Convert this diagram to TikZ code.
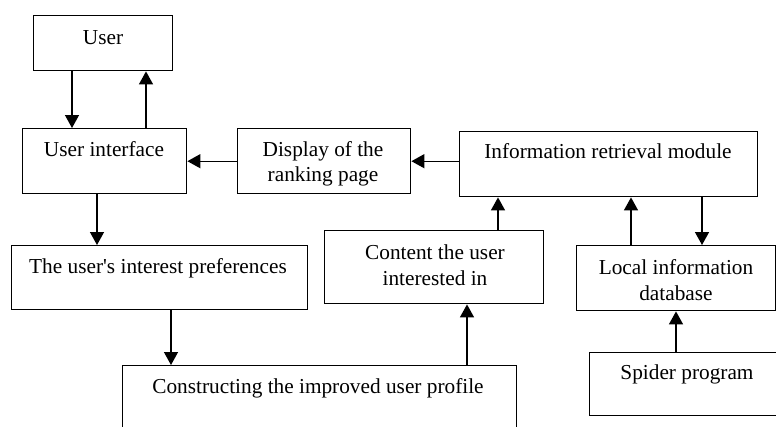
\documentclass[tikz,border=0pt]{standalone}
\usepackage{fontspec}
\setmainfont{Liberation Serif}[Ligatures=TeXOff]
\usetikzlibrary{arrows.meta}
\begin{document}
\begin{tikzpicture}[x=1pt,y=-1pt,
  box/.style={draw, line width=1.4pt, rectangle, inner sep=0pt, anchor=north west},
  lbl/.style={font=\fontsize{21.3}{25.5}\selectfont, align=center, inner sep=0pt, text height=14pt, text depth=4pt},
  lbltwo/.style={font=\fontsize{21.3}{25.5}\selectfont, align=center, inner sep=0pt},
  arr/.style={line width=1.4pt, -{Triangle[length=13pt,width=14pt]}}]
\useasboundingbox (0,0) rectangle (776,426);
\clip (0,0) rectangle (776,426);
% boxes
\node[box, minimum width=139pt, minimum height=55pt] (user) at (33,15) {};
\node[box, minimum width=164pt, minimum height=65pt] (ui) at (22,128) {};
\node[box, minimum width=173pt, minimum height=65pt] (disp) at (237,128) {};
\node[box, minimum width=298pt, minimum height=65pt] (ir) at (459,131) {};
\node[box, minimum width=296pt, minimum height=64pt] (pref) at (11,245) {};
\node[box, minimum width=219pt, minimum height=73pt] (content) at (324,230) {};
\node[box, minimum width=199pt, minimum height=65pt] (ldb) at (576,245) {};
\node[box, minimum width=394pt, minimum height=100pt] (cons) at (122,365) {};
\node[box, minimum width=220pt, minimum height=63pt] (spider) at (589,352) {};
% labels
\node[lbl] (tuser) at (103,39) {User};
\node[lbl] (tui) at (104,151) {User interface};
\node[lbltwo] (tdisp) at (323,164) {Display of the\\ranking page};
\node[lbl] (tir) at (608,153) {Information retrieval module};
\node[lbl] (tpref) at (158,268) {The user's interest preferences};
\node[lbltwo] (tcontent) at (435,265) {Content the user\\interested in};
\node[lbltwo] (tldb) at (676,280) {Local information\\database};
\node[lbl] (tcons) at (318,388) {Constructing the improved user profile};
\node[lbl] (tspider) at (687,374) {Spider program};
% x positions of vertical connectors
\coordinate (c1) at (72,0);
\coordinate (c2) at (146,0);
\coordinate (c3) at (97,0);
\coordinate (c4) at (171,0);
\coordinate (c5) at (467,0);
\coordinate (c6) at (498,0);
\coordinate (c7) at (631,0);
\coordinate (c8) at (702,0);
\coordinate (c9) at (676,0);
% connectors
\draw[arr] (user.south -| c1) -- (ui.north -| c1);
\draw[arr] (ui.north -| c2) -- (user.south -| c2);
\draw[arr] (disp.west) -- (ui.east);
\draw[arr] (ir.west |- disp.east) -- (disp.east);
\draw[arr] (ui.south -| c3) -- (pref.north -| c3);
\draw[arr] (pref.south -| c4) -- (cons.north -| c4);
\draw[arr] (cons.north -| c5) -- (content.south -| c5);
\draw[arr] (content.north -| c6) -- (ir.south -| c6);
\draw[arr] (ldb.north -| c7) -- (ir.south -| c7);
\draw[arr] (ir.south -| c8) -- (ldb.north -| c8);
\draw[arr] (spider.north -| c9) -- (ldb.south -| c9);
\end{tikzpicture}
\end{document}
